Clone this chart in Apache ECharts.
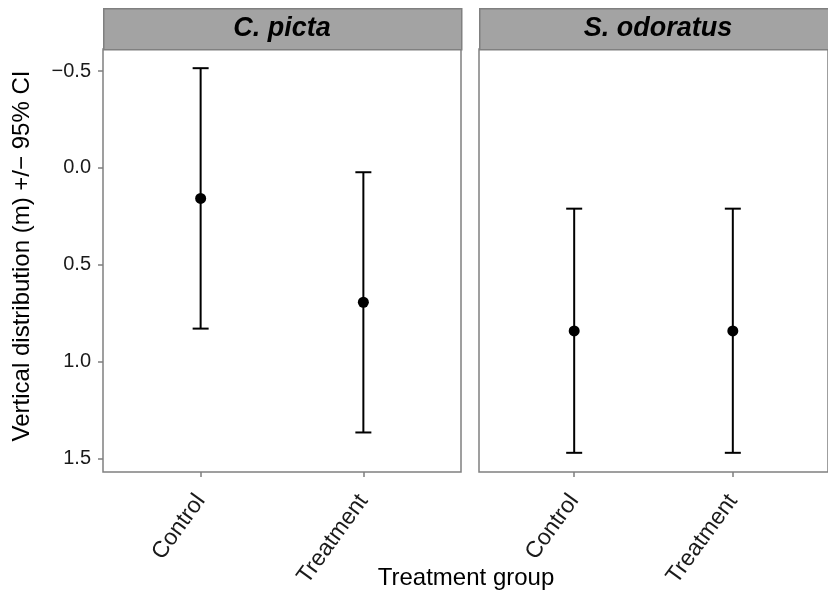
<!DOCTYPE html>
<html>
<head>
<meta charset="utf-8">
<script src="https://cdn.jsdelivr.net/npm/echarts@6/dist/echarts.min.js"></script>
<style>
html,body{margin:0;padding:0;background:#fff;}
#main{width:828px;height:596px;}
</style>
</head>
<body>
<div id="main"></div>
<script>
// ---- data ----
var groups = ['Control', 'Treatment'];
var species = ['C. picta', 'S. odoratus'];
var meanPicta = [0.157, 0.693];
var lowPicta = [-0.515, 0.022];
var highPicta = [0.829, 1.365];
var meanOdoratus = [0.841, 0.841];
var lowOdoratus = [0.210, 0.210];
var highOdoratus = [1.470, 1.470];
var yTicks = [-0.5, 0.0, 0.5, 1.0, 1.5];
var xTicks = [1, 2];
var yTitle = 'Vertical distribution (m) +/\u2212 95% CI';
var xTitle = 'Treatment group';

var FONT = '"Liberation Sans", Arial, Helvetica, sans-serif';
var chart = echarts.init(document.getElementById('main'), null, {renderer: 'canvas'});

function fmtY(v) {
  var s = Number(v).toFixed(1);
  return s.replace('-', '\u2212');
}

function errData(means, lows, highs) {
  return means.map(function (m, i) { return [xTicks[i], lows[i], highs[i]]; });
}
function ptData(means) {
  return means.map(function (m, i) { return [xTicks[i], m]; });
}

function renderErr(params, api) {
  var x = api.value(0);
  var top = api.coord([x, api.value(1)]);
  var bot = api.coord([x, api.value(2)]);
  var hw = 8;
  var st = {stroke: '#000', lineWidth: 2};
  return {
    type: 'group',
    children: [
      {type: 'line', shape: {x1: top[0], y1: top[1], x2: bot[0], y2: bot[1]}, style: st},
      {type: 'line', shape: {x1: top[0] - hw, y1: top[1], x2: top[0] + hw, y2: top[1]}, style: st},
      {type: 'line', shape: {x1: bot[0] - hw, y1: bot[1], x2: bot[0] + hw, y2: bot[1]}, style: st}
    ]
  };
}

var gridTop = 49, gridH = 423, gridW = 358;
var lefts = [103, 479];

function xAxisDef(idx) {
  return {
    type: 'value', gridIndex: idx, min: 0.4, max: 2.6, position: 'bottom',
    splitLine: {show: false},
    axisLine: {show: false, onZero: false},
    axisTick: {show: true, customValues: xTicks, length: 5, lineStyle: {color: '#7f7f7f', width: 1.5}},
    axisLabel: {
      show: true, customValues: xTicks, rotate: 54, margin: 25,
      color: '#1a1a1a', fontSize: 23, fontFamily: FONT,
      formatter: function (v) { return groups[Math.round(v) - 1] || ''; }
    }
  };
}
function yAxisDef(idx, showLabels) {
  return {
    type: 'value', gridIndex: idx, min: -0.614, max: 1.569, inverse: true,
    splitLine: {show: false},
    axisLine: {show: false, onZero: false},
    axisTick: {show: showLabels, customValues: yTicks, length: 5, lineStyle: {color: '#7f7f7f', width: 1.5}},
    axisLabel: {
      show: showLabels, customValues: yTicks, margin: 12,
      color: '#1a1a1a', fontSize: 20, fontFamily: FONT,
      formatter: fmtY
    }
  };
}

var graphics = [];
species.forEach(function (name, i) {
  graphics.push({
    type: 'rect', left: lefts[i], top: 8,
    shape: {width: gridW, height: gridTop - 8},
    style: {fill: '#a3a3a3', stroke: '#808080', lineWidth: 1.5},
    z: 10
  });
  graphics.push({
    type: 'text', x: lefts[i] + gridW / 2, y: 29,
    style: {text: name, font: 'italic bold 27px ' + FONT, fill: '#000', textAlign: 'center', textVerticalAlign: 'middle'},
    z: 11
  });
});
graphics.push({
  type: 'text', x: 466, y: 578,
  style: {text: xTitle, font: '24px ' + FONT, fill: '#000', textAlign: 'center', textVerticalAlign: 'middle'}
});
graphics.push({
  type: 'text', x: 22, y: 256, rotation: Math.PI / 2,
  style: {text: yTitle, font: '24px ' + FONT, fill: '#000', textAlign: 'center', textVerticalAlign: 'middle'}
});

var option = {
  animation: false,
  backgroundColor: '#fff',
  grid: lefts.map(function (l) {
    return {left: l, top: gridTop, width: gridW, height: gridH, show: true,
      borderColor: '#808080', borderWidth: 1.5, backgroundColor: '#fff', containLabel: false};
  }),
  xAxis: [xAxisDef(0), xAxisDef(1)],
  yAxis: [yAxisDef(0, true), yAxisDef(1, false)],
  series: [
    {type: 'custom', xAxisIndex: 0, yAxisIndex: 0, renderItem: renderErr, data: errData(meanPicta, lowPicta, highPicta), z: 2},
    {type: 'scatter', xAxisIndex: 0, yAxisIndex: 0, symbolSize: 11, itemStyle: {color: '#000', opacity: 1}, data: ptData(meanPicta), z: 3},
    {type: 'custom', xAxisIndex: 1, yAxisIndex: 1, renderItem: renderErr, data: errData(meanOdoratus, lowOdoratus, highOdoratus), z: 2},
    {type: 'scatter', xAxisIndex: 1, yAxisIndex: 1, symbolSize: 11, itemStyle: {color: '#000', opacity: 1}, data: ptData(meanOdoratus), z: 3}
  ],
  graphic: graphics
};
chart.setOption(option);
</script>
</body>
</html>
